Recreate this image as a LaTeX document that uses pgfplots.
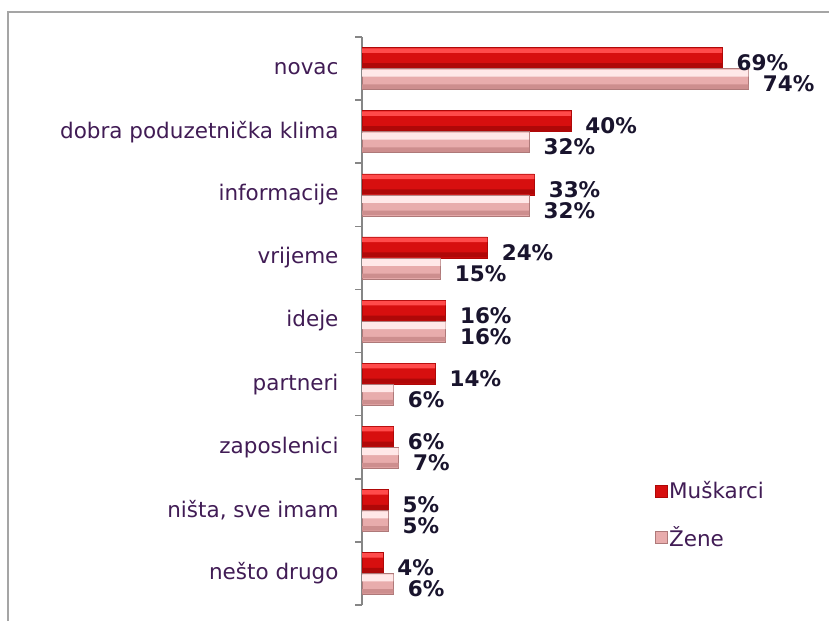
\documentclass[border=0pt]{standalone}
\usepackage{pgfplots}
\pgfplotsset{compat=1.18}
\usepackage{fontspec}
\setmainfont{DejaVu Sans}
\definecolor{cattext}{RGB}{65,28,85}
\definecolor{axgray}{RGB}{134,134,134}
\definecolor{framegray}{RGB}{165,165,165}
\definecolor{redtop}{RGB}{255,75,75}
\definecolor{redmid}{RGB}{215,15,15}
\definecolor{redbot}{RGB}{175,8,8}
\definecolor{pinktop}{RGB}{255,232,232}
\definecolor{pinkmid}{RGB}{232,172,172}
\definecolor{pinkbot}{RGB}{205,142,142}
\definecolor{labtext}{RGB}{25,20,45}
\pgfplotstableread{
y m z
8 69 74
7 40 32
6 33 32
5 24 15
4 16 16
3 14 6
2 6 7
1 5 5
0 4 6
}\datatab
\begin{document}
\begin{tikzpicture}[x=1pt,y=1pt]
\useasboundingbox (0,0) rectangle (829,621);
\draw[framegray, line width=2pt] (8,0) -- (8,609) -- (829,609);
\begin{axis}[
  at={(362pt,16pt)}, anchor=south west,
  scale only axis, width=467pt, height=568pt,
  xmin=0, xmax=89.46, ymin=-0.5, ymax=8.5,
  xbar, bar width=21pt,
  axis x line=none,
  axis y line*=left,
  y axis line style={axgray, line width=1.5pt},
  ytick={0,...,8},
  yticklabels={nešto drugo,{ništa, sve imam},zaposlenici,partneri,ideje,vrijeme,informacije,dobra poduzetnička klima,novac},
  major tick length=0pt,
  minor ytick={-0.5,0.5,...,8.5},
  minor tick length=7pt,
  tick align=outside,
  tick style={axgray, line width=1.5pt},
  yticklabel style={font=\fontsize{21.5}{25}\selectfont, text=cattext, xshift=-20pt},
  clip=false,
  legend cell align=left,
  legend style={at={(0.62,0.225)}, anchor=north west, draw=none, fill=none,
    font=\fontsize{21.5}{25}\selectfont, text=cattext, row sep=22pt},
  legend image code/.code={\fill[#1] (0pt,-6pt) rectangle (12pt,6pt);},
  lbl/.style={nodes near coords={\pgfmathprintnumber[assume math mode=true]{\pgfplotspointmeta}\%},
    nodes near coords style={font=\bfseries\fontsize{21.5}{25}\selectfont, text=labtext, anchor=west, xshift=11pt, yshift=-5pt}},
]
% Muskarci
\addplot[bar shift=10.5pt, fill=redmid, draw=redbot, lbl] table[x=m, y=y] {\datatab};
\addplot[forget plot, bar shift=18pt, bar width=4.5pt, fill=redtop, draw=none] table[x=m, y=y] {\datatab};
\addplot[forget plot, bar shift=3pt, bar width=5pt, fill=redbot, draw=none] table[x=m, y=y] {\datatab};
% Zene
\addplot[bar shift=-10.5pt, fill=pinkmid, draw=pinkbot!85!black, lbl] table[x=z, y=y] {\datatab};
\addplot[forget plot, bar shift=-4.5pt, bar width=7pt, fill=pinktop, draw=none] table[x=z, y=y] {\datatab};
\addplot[forget plot, bar shift=-18pt, bar width=4.5pt, fill=pinkbot, draw=none] table[x=z, y=y] {\datatab};
\legend{Muškarci,Žene}
\end{axis}
\end{tikzpicture}
\end{document}
